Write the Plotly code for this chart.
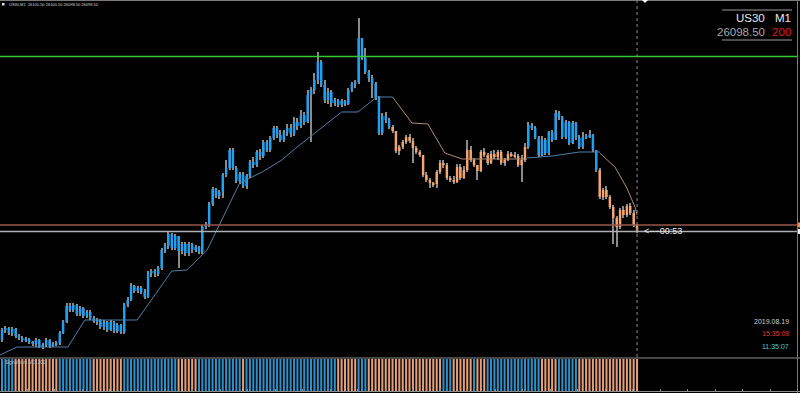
import plotly.graph_objects as go

# ---------------- data (prices stored as points above BASE) ----------------
BASE = 26000.0
OPEN_FIRST = -10  # open of the first visible M1 bar; later opens = previous close

close_pts = [0, 2, -3, 1, -6, -8, -10, -9, -12, -14,
             -10, -17, -15, -10, -16, -14, -13, -3, 8, 24,
             20, 25, 16, 22, 14, 18, 12, 9, 10, 3,
             8, 0, 8, -1, 5, -2, 25, 30, 44, 39,
             42, 38, 33, 57, 59, 56, 62, 80, 84, 96,
             82, 94, 79, 86, 77, 86, 80, 83, 78, 103,
             105, 126, 141, 134, 138, 155, 162, 180, 162, 149,
             156, 144, 154, 168, 165, 178, 174, 188, 180, 192,
             202, 195, 190, 198, 202, 196, 208, 204, 215, 208,
             235, 240, 250, 268, 245, 230, 238, 227, 230, 225,
             229, 226, 240, 246, 248, 292, 272, 258, 252, 246,
             232, 197, 214, 210, 203, 199, 179, 183, 188, 193,
             189, 182, 178, 175, 155, 150, 147, 146, 158, 167,
             165, 152, 150, 148, 163, 152, 160, 180, 170, 165,
             159, 178, 175, 167, 176, 173, 178, 167, 170, 176,
             175, 174, 165, 170, 183, 205, 202, 192, 175, 190,
             177, 198, 190, 217, 213, 193, 208, 187, 207, 192,
             183, 193, 194, 195, 180, 160, 133, 140, 133, 123,
             112, 103, 120, 115, 124, 117, 105, 98.5]

high_pts = [2, 4, 3, 3, 2, -4, -6, -7, -8, -11,
            -8, -9, -13, -8, -9, -12, -11, -1, 10, 27,
            27, 27, 26, 24, 23, 20, 20, 14, 12, 11,
            10, 9, 10, 9, 7, 6, 27, 33, 47, 45,
            44, 44, 41, 59, 61, 61, 64, 82, 87, 98,
            97, 96, 94, 88, 88, 88, 87, 85, 84, 105,
            108, 128, 143, 142, 140, 157, 170, 182, 182, 164,
            158, 158, 156, 170, 173, 180, 181, 190, 190, 194,
            204, 204, 200, 200, 206, 206, 213, 212, 220, 218,
            240, 243, 257, 278, 270, 250, 242, 240, 232, 231,
            231, 230, 242, 248, 250, 312, 292, 282, 260, 255,
            248, 234, 217, 218, 212, 205, 199, 185, 190, 195,
            196, 192, 184, 180, 175, 158, 152, 148, 160, 170,
            170, 167, 154, 154, 166, 166, 164, 190, 184, 172,
            165, 180, 182, 177, 179, 180, 180, 180, 172, 179,
            178, 178, 176, 175, 187, 208, 207, 204, 194, 194,
            192, 199, 200, 220, 219, 214, 210, 209, 209, 208,
            195, 198, 196, 200, 196, 180, 162, 142, 144, 135,
            125, 114, 122, 124, 126, 127, 120, 106]

low_pts = [-12, -3, -5, -6, -8, -10, -12, -12, -14, -16,
           -17, -18, -19, -17, -18, -17, -16, -15, -4, 7,
           18, 18, 14, 14, 12, 12, 10, 7, 5, 1,
           0, -2, -1, -3, -3, -4, -4, 23, 29, 37,
           37, 36, 31, 32, 53, 53, 54, 60, 77, 81,
           80, 80, 62, 76, 74, 74, 77, 78, 76, 76,
           101, 103, 124, 132, 131, 132, 153, 160, 160, 147,
           146, 142, 141, 152, 162, 163, 170, 172, 178, 178,
           190, 192, 188, 188, 194, 193, 194, 200, 202, 205,
           207, 188, 236, 246, 243, 227, 226, 223, 224, 223,
           223, 224, 225, 238, 242, 246, 270, 256, 248, 232,
           230, 195, 195, 207, 201, 197, 177, 175, 181, 186,
           187, 167, 176, 173, 153, 148, 142, 143, 142, 156,
           162, 150, 148, 146, 147, 150, 151, 158, 168, 163,
           150, 158, 173, 165, 166, 171, 170, 165, 164, 169,
           173, 172, 163, 148, 168, 181, 200, 191, 173, 174,
           175, 175, 188, 190, 210, 191, 191, 185, 186, 190,
           181, 181, 191, 192, 178, 158, 131, 130, 131, 121,
           86, 83, 101, 112, 113, 115, 103, 97]

# candle colouring by trend (run lengths)
candle_trend_runs = [(115, "up"), (40, "down"), (21, "up"), (12, "down")]

# lower indicator window: colour of each bar (run lengths)
hist_runs = [(4, "up"), (13, "down"), (10, "up"), (9, "down"), (16, "up"), (6, "down"),
             (13, "up"), (1, "down"), (27, "up"), (6, "down"), (3, "up"), (22, "down"),
             (3, "up"), (6, "down"), (1, "up"), (3, "down"), (16, "up"), (5, "down"),
             (6, "up"), (18, "down")]

# trailing stop line (bar index, points)
trail_up1_idx = [-0.6, 4.4, 19.4, 24.4, 39.8, 50, 54.5, 60.4, 70, 76.6, 82.4, 86.9, 100, 104.8, 110.4, 115]
trail_up1_val = [-25, -17, -17, 10, 10, 59, 60, 80, 147, 158, 170, 183, 218, 218, 233, 233]
trail_dn1_idx = [115, 120.7, 125.4, 130.4, 135.5, 154.6]
trail_dn1_val = [233, 207, 206, 177, 171, 171]
trail_up2_idx = [154.6, 162, 170, 176]
trail_up2_val = [172, 174, 178, 178]
trail_dn2_idx = [176, 180.5, 184, 186.4, 187]
trail_dn2_val = [177, 163, 142, 123, 115]

GREEN_LEVEL = 273.5
ASK_LEVEL = 105.0
BID_LEVEL = 98.5

header_text = "US30,M1  26100.50 26100.50 26098.50 26098.50"
symbol_text = "US30"
tf_text = "M1"
bid_text = "26098.50"
spread_text = "200"
countdown_text = "&lt;&#8722;&#8722;00:53"
date_text = "2019.08.19"
server_time_text = "15:35:09"
local_time_text = "11:35:07"
indicator_text = "SignalBars M(1,200)"

# ---------------- styling ----------------
W, H = 800, 393
BLUE = "#1FA0F0"
ORANGE = "#F6A66C"
WICK = "#8A8A8A"
HIST_BLUE = "#2F8FC6"
HIST_ORANGE = "#E4A07A"
FONT = "Liberation Sans, Arial, sans-serif"

def px(x):
    return x / W

def py(y):
    return 1 - y / H

n = len(close_pts)
idx = list(range(n))
opens = [OPEN_FIRST] + close_pts[:-1]

def expand(runs, up_col, dn_col):
    out = []
    for cnt, t in runs:
        out += [up_col if t == "up" else dn_col] * cnt
    return out

candle_cols = expand(candle_trend_runs, BLUE, ORANGE)
hist_cols = expand(hist_runs, HIST_BLUE, HIST_ORANGE)

wick_base = [BASE + l for l in low_pts]
wick_h = [h - l for h, l in zip(high_pts, low_pts)]

body_base, body_h = [], []
for o, c in zip(opens, close_pts):
    lo = min(o, c)
    h = abs(c - o)
    if h < 1.5:
        lo = (o + c) / 2 - 0.75
        h = 1.5
    body_base.append(BASE + lo)
    body_h.append(h)

fig = go.Figure()
# wicks (thin bars, drawn under the bodies)
fig.add_trace(go.Bar(x=idx, y=wick_h, base=wick_base, marker=dict(color=WICK, line=dict(width=0)),
                     width=0.3, hoverinfo="skip"))
# bodies
fig.add_trace(go.Bar(x=idx, y=body_h, base=body_base, marker=dict(color=candle_cols, line=dict(width=0)),
                     width=0.72, hoverinfo="skip"))
for xs, vs, col in [(trail_up1_idx, trail_up1_val, "#4E80AC"),
                    (trail_dn1_idx, trail_dn1_val, "#B08C6C"),
                    (trail_up2_idx, trail_up2_val, "#4E80AC"),
                    (trail_dn2_idx, trail_dn2_val, "#B08C6C")]:
    fig.add_trace(go.Scatter(x=xs, y=[BASE + v for v in vs], mode="lines",
                             line=dict(color=col, width=1), hoverinfo="skip"))
fig.add_trace(go.Bar(x=idx, y=[1] * n, marker=dict(color=hist_cols, line=dict(width=0)),
                     width=0.6, xaxis="x2", yaxis="y2", hoverinfo="skip"))

x_lo = (0 - 2) / 3.396
x_hi = (W - 2) / 3.396

shapes = []
def hline_price(level, color, width):
    shapes.append(dict(type="line", xref="paper", yref="y", x0=0, x1=px(797),
                       y0=BASE + level, y1=BASE + level, line=dict(color=color, width=width)))

hline_price(GREEN_LEVEL, "#34C934", 1.6)
hline_price(ASK_LEVEL, "#98584A", 1.5)
hline_price(BID_LEVEL, "#B0B0B0", 1.5)

# price-scale markers at right edge
shapes.append(dict(type="rect", xref="paper", yref="y", x0=px(797), x1=1,
                   y0=BASE + ASK_LEVEL - 2.5, y1=BASE + ASK_LEVEL + 2.5,
                   fillcolor="#E8915A", line=dict(width=0)))
shapes.append(dict(type="rect", xref="paper", yref="y", x0=px(797), x1=1,
                   y0=BASE + BID_LEVEL - 2.5, y1=BASE + BID_LEVEL + 2.5,
                   fillcolor="#F0F0F0", line=dict(width=0)))
# borders
shapes.append(dict(type="line", xref="paper", yref="paper", x0=0, x1=1, y0=py(0.5), y1=py(0.5),
                   line=dict(color="#7A7A7A", width=1)))
shapes.append(dict(type="line", xref="paper", yref="paper", x0=0, x1=1, y0=py(358), y1=py(358),
                   line=dict(color="#8C8C8C", width=1.2)))
shapes.append(dict(type="line", xref="paper", yref="paper", x0=px(797.5), x1=px(797.5), y0=0, y1=1,
                   line=dict(color="#7A7A7A", width=1)))
# current-bar dotted line
shapes.append(dict(type="line", xref="x", yref="paper", x0=n - 1, x1=n - 1, y0=py(357), y1=1,
                   line=dict(color="#8A8A8A", width=1, dash="dot")))
# chart shift marker
shapes.append(dict(type="path", xref="paper", yref="paper",
                   path=f"M {px(642)} {py(0)} L {px(648)} {py(0)} L {px(645)} {py(3)} Z",
                   fillcolor="#FFFFFF", line=dict(width=0)))
# top-right info box separators
for yy in (10, 40):
    shapes.append(dict(type="line", xref="paper", yref="paper", x0=px(722), x1=px(792),
                       y0=py(yy), y1=py(yy), line=dict(color="#9A9A9A", width=1)))
# header icon
shapes.append(dict(type="rect", xref="paper", yref="paper", x0=px(2), x1=px(4.5),
                   y0=py(5.5), y1=py(3), fillcolor="#E0E0E0", line=dict(width=0)))

def ann(text, x, y, size, color, anchor="left"):
    return dict(text=text, xref="paper", yref="paper", x=px(x), y=py(y), xanchor=anchor,
                yanchor="middle", showarrow=False, font=dict(family=FONT, size=size, color=color))

annotations = [
    ann(header_text, 6.5, 4.5, 4.0, "#D8D8D8"),
    ann(symbol_text, 767, 18, 11.5, "#E8E8E8", "right"),
    ann(tf_text, 793, 18, 11.5, "#E8E8E8", "right"),
    ann(bid_text, 767, 32, 11.5, "#A8A8A8", "right"),
    ann(spread_text, 793, 32, 11.5, "#E01818", "right"),
    ann(countdown_text, 642, 231.5, 9, "#EEEEEE"),
    ann(date_text, 791, 321, 7, "#CFCFCF", "right"),
    ann(server_time_text, 791, 333.5, 7, "#E03838", "right"),
    ann(local_time_text, 791, 346, 7, "#4CC4E4", "right"),
    ann(indicator_text, 2.5, 362.5, 4.6, "#B8B8B8"),
]

fig.update_layout(
    width=W, height=H, margin=dict(l=0, r=0, t=0, b=0),
    paper_bgcolor="#000000", plot_bgcolor="#000000", showlegend=False,
    barmode="overlay",
    xaxis=dict(domain=[0, 1], range=[x_lo, x_hi], showgrid=False, zeroline=False,
               showticklabels=False, ticks="", showline=False),
    yaxis=dict(domain=[py(357), 1], range=[BASE - 27, BASE + 330], showgrid=False, zeroline=False,
               showticklabels=False, ticks="", showline=False),
    xaxis2=dict(domain=[0, 1], anchor="y2", matches="x", showgrid=False, zeroline=False,
                showticklabels=False, showline=True, linecolor="#8C8C8C", linewidth=1,
                ticks="inside", ticklen=2, tickcolor="#8C8C8C",
                tickvals=[7.5 + 8.1 * k for k in range(29)]),
    yaxis2=dict(domain=[py(391), py(359)], range=[0, 1], showgrid=False, zeroline=False,
                showticklabels=False, ticks="", showline=False),
    shapes=shapes, annotations=annotations,
)

fig.write_html("out.html", config={"displayModeBar": False})
